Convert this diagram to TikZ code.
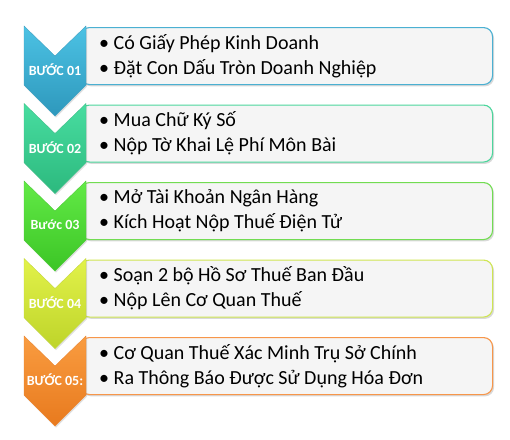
\documentclass[tikz,border=0pt]{standalone}
\usepackage{fontspec}
\setmainfont{Carlito}
\usepackage{tikz}
\usetikzlibrary{calc,shadows}

\definecolor{boxgray}{HTML}{F5F5F5}
\definecolor{cyanT}{HTML}{4CC2E4}
\definecolor{cyanB}{HTML}{2E98BC}
\definecolor{cyanL}{HTML}{4BB0D2}
\definecolor{tealT}{HTML}{48DDA0}
\definecolor{tealB}{HTML}{2CB97E}
\definecolor{tealL}{HTML}{4CD69C}
\definecolor{greenT}{HTML}{62EA46}
\definecolor{greenB}{HTML}{3CC526}
\definecolor{greenL}{HTML}{72DC52}
\definecolor{limeT}{HTML}{E2F24A}
\definecolor{limeB}{HTML}{BED42A}
\definecolor{limeL}{HTML}{CFE552}
\definecolor{orangeT}{HTML}{F99C40}
\definecolor{orangeB}{HTML}{E87A1E}
\definecolor{orangeL}{HTML}{F7964A}

\tikzset{
  box/.style={draw=#1, line width=1.1pt, fill=boxgray, rounded corners=9pt,
    minimum width=412pt, minimum height=57pt, anchor=north west,
    drop shadow={shadow xshift=1.5pt, shadow yshift=-1.8pt, opacity=0.3}},
  chev/.style 2 args={top color=#1, bottom color=#2, draw=#2!90!white, line width=0.4pt,
    drop shadow={shadow xshift=1pt, shadow yshift=-1.5pt, opacity=0.25}},
  lbl/.style={text=white, inner sep=0pt, font=\bfseries\fontsize{14}{16}\selectfont},
  items/.style={anchor=west, align=left, inner sep=0pt, font=\fontsize{20}{25}\selectfont}
}

\begin{document}
\begin{tikzpicture}[x=1pt,y=-1pt]
  \useasboundingbox (0,0) rectangle (510,439);

  % step 1
  \node (b1) [box=cyanL] at (80,27) {};
  \draw [chev={cyanT}{cyanB}] (24,26) -- ++(31,30) -- ++(31,-30) -- ++(0,59) -- ++(-31,31) -- ++(-31,-31) -- cycle;
  \node (s1) at (55,70) [lbl] {BƯỚC 01};
  \node (t1) at ($(b1.west)+(19,0)$) [items] {• Có Giấy Phép Kinh Doanh\\• Đặt Con Dấu Tròn Doanh Nghiệp};

  % step 2
  \node (b2) [box=tealL] at (80,104.5) {};
  \draw [chev={tealT}{tealB}] (24,103.5) -- ++(31,30) -- ++(31,-30) -- ++(0,59) -- ++(-31,31) -- ++(-31,-31) -- cycle;
  \node (s2) at (55,147.5) [lbl] {BƯỚC 02};
  \node (t2) at ($(b2.west)+(19,0)$) [items] {• Mua Chữ Ký Số\\• Nộp Tờ Khai Lệ Phí Môn Bài};

  % step 3
  \node (b3) [box=greenL] at (80,182) {};
  \draw [chev={greenT}{greenB}] (24,181) -- ++(31,30) -- ++(31,-30) -- ++(0,59) -- ++(-31,31) -- ++(-31,-31) -- cycle;
  \node (s3) at (55,225) [lbl] {Bước 03};
  \node (t3) at ($(b3.west)+(19,0)$) [items] {• Mở Tài Khoản Ngân Hàng\\• Kích Hoạt Nộp Thuế Điện Tử};

  % step 4
  \node (b4) [box=limeL] at (80,259.5) {};
  \draw [chev={limeT}{limeB}] (24,258.5) -- ++(31,30) -- ++(31,-30) -- ++(0,59) -- ++(-31,31) -- ++(-31,-31) -- cycle;
  \node (s4) at (55,302.5) [lbl] {BƯỚC 04};
  \node (t4) at ($(b4.west)+(19,0)$) [items] {• Soạn 2 bộ Hồ Sơ Thuế Ban Đầu\\• Nộp Lên Cơ Quan Thuế};

  % step 5
  \node (b5) [box=orangeL] at (80,337) {};
  \draw [chev={orangeT}{orangeB}] (24,336) -- ++(31,30) -- ++(31,-30) -- ++(0,59) -- ++(-31,31) -- ++(-31,-31) -- cycle;
  \node (s5) at (55,380) [lbl] {BƯỚC 05:};
  \node (t5) at ($(b5.west)+(19,0)$) [items] {• Cơ Quan Thuế Xác Minh Trụ Sở Chính\\• Ra Thông Báo Được Sử Dụng Hóa Đơn};
\end{tikzpicture}
\end{document}
